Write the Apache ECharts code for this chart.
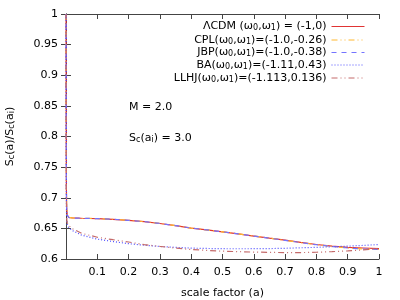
<!DOCTYPE html>
<html><head><meta charset="utf-8">
<script src="https://cdn.jsdelivr.net/npm/echarts@6/dist/echarts.min.js"></script>
<style>html,body{margin:0;padding:0;background:#fff}#c{width:400px;height:300px}</style>
</head><body><div id="c"></div>
<script>
var aVals = [0.0002, 0.0006, 0.0012, 0.002, 0.004, 0.008, 0.02, 0.05, 0.1, 0.15, 0.2, 0.25, 0.3, 0.35, 0.4, 0.45, 0.5, 0.55, 0.6, 0.65, 0.7, 0.75, 0.8, 0.85, 0.9, 0.95, 1.0];
var lcdm = [1.0, 0.84, 0.72, 0.685, 0.672, 0.668, 0.667, 0.6665, 0.666, 0.6648, 0.6632, 0.661, 0.658, 0.6545, 0.6505, 0.6475, 0.6444, 0.641, 0.6375, 0.634, 0.6307, 0.627, 0.6237, 0.621, 0.619, 0.618, 0.617];
var cpl  = [1.0, 0.84, 0.72, 0.685, 0.672, 0.668, 0.667, 0.6665, 0.666, 0.6648, 0.6632, 0.661, 0.658, 0.6545, 0.6505, 0.6475, 0.6444, 0.641, 0.6375, 0.634, 0.6305, 0.6268, 0.6233, 0.6205, 0.618, 0.6165, 0.6155];
var jbp  = [1.0, 0.84, 0.72, 0.685, 0.672, 0.668, 0.667, 0.6665, 0.666, 0.6648, 0.6632, 0.661, 0.658, 0.6545, 0.6505, 0.6475, 0.6444, 0.641, 0.6375, 0.634, 0.6305, 0.6268, 0.6233, 0.6205, 0.618, 0.6165, 0.6155];
var ba   = [1.0, 0.82, 0.7, 0.665, 0.656, 0.652, 0.6465, 0.639, 0.6325, 0.6285, 0.625, 0.6225, 0.6205, 0.619, 0.6178, 0.6172, 0.6168, 0.6167, 0.6168, 0.617, 0.6175, 0.6183, 0.619, 0.62, 0.621, 0.6222, 0.6237];
var llhj = [1.0, 0.82, 0.7, 0.667, 0.659, 0.655, 0.6495, 0.642, 0.6355, 0.6315, 0.6278, 0.6235, 0.6205, 0.6178, 0.6155, 0.614, 0.6128, 0.612, 0.6113, 0.6108, 0.6105, 0.6105, 0.611, 0.612, 0.6132, 0.615, 0.617];
var seriesNames = ['LCDM', 'CPL', 'JBP', 'BA', 'LLHJ'];
var legendLabels = [
  'ΛCDM (ω{s|0},ω{s|1}) = (-1,0)',
  'CPL(ω{s|0},ω{s|1})=(-1.0,-0.26)',
  'JBP(ω{s|0},ω{s|1})=(-1.0,-0.38)',
  'BA(ω{s|0},ω{s|1})=(-1.11,0.43)',
  'LLHJ(ω{s|0},ω{s|1})=(-1.113,0.136)'
];
var xTicks = [0.1, 0.2, 0.3, 0.4, 0.5, 0.6, 0.7, 0.8, 0.9, 1];
var yTicks = [0.6, 0.65, 0.7, 0.75, 0.8, 0.85, 0.9, 0.95, 1];

function pairs(ys){ return aVals.map(function(a,i){ return [a, ys[i]]; }); }
var allData = [lcdm, cpl, jbp, ba, llhj];
var colors = ['#e03434', '#ffb830', '#7474ff', '#4c4cff', '#c46a6a'];
var dashes = ['solid', [6,3,1,3,1,3], [5,5], [1,2], [6,3,1,3,1,3]];
var FONT = 'DejaVu Sans';
var rich = { s: { fontSize: 8, fontFamily: FONT, verticalAlign: 'bottom', lineHeight: 8, padding: [6,0,0,0] } };

var series = seriesNames.map(function(n, i){
  return { name: n, type: 'line', xAxisIndex: 0, yAxisIndex: 0, symbol: 'none', smooth: false, animation: false,
    data: pairs(allData[i]), lineStyle: { color: colors[i], width: 1.2, type: dashes[i] }, itemStyle: { color: colors[i] }, z: 2 + i };
});
var rowCenters = [25, 38.5, 51, 63.5, 76.5];
var legends = seriesNames.map(function(n, i){
  return { data: [n], right: 35, top: rowCenters[i] - 7, align: 'right', orient: 'vertical', itemWidth: 33, itemHeight: 12,
    padding: 0, selectedMode: false,
    itemStyle: { color: 'transparent', borderWidth: 0, opacity: 0 },
    lineStyle: { width: 1, color: colors[i], type: dashes[i] },
    formatter: function(){ return legendLabels[i]; },
    textStyle: { fontFamily: FONT, fontSize: 11, color: '#000', rich: rich } };
});
var option = {
  animation: false,
  grid: { left: 66, right: 21, top: 14, bottom: 41, containLabel: false, outerBoundsMode: 'none' },
  legend: legends,
  xAxis: [
    { type: 'value', min: 0, max: 1, interval: 0.1, position: 'bottom',
      name: 'scale factor (a)', nameLocation: 'middle', nameGap: 29,
      nameTextStyle: { fontFamily: FONT, fontSize: 11, color: '#000' },
      axisLine: { lineStyle: { color: '#444' } }, splitLine: { show: false },
      axisTick: { inside: true, length: 5, lineStyle: { color: '#444' } },
      axisLabel: { fontFamily: FONT, fontSize: 11, color: '#000', margin: 8,
        formatter: function(v){ return xTicks.some(function(t){return Math.abs(t-v)<1e-9;}) ? String(+v.toFixed(1)) : ''; } } },
    { type: 'value', min: 0, max: 1, interval: 0.1, position: 'top',
      axisLine: { lineStyle: { color: '#444' } }, splitLine: { show: false },
      axisTick: { inside: true, length: 5, lineStyle: { color: '#444' } }, axisLabel: { show: false } }
  ],
  yAxis: [
    { type: 'value', min: 0.6, max: 1, interval: 0.05, position: 'left',
      name: 'S{s|c}(a)/S{s|c}(a{s|i})', nameLocation: 'middle', nameGap: 50, nameRotate: 90,
      nameTextStyle: { fontFamily: FONT, fontSize: 11, color: '#000', rich: rich },
      axisLine: { show: true, lineStyle: { color: '#444' } }, splitLine: { show: false },
      axisTick: { show: true, inside: true, length: 5, lineStyle: { color: '#444' } },
      axisLabel: { fontFamily: FONT, fontSize: 11, color: '#000', margin: 8,
        formatter: function(v){ var t = yTicks.filter(function(t){return Math.abs(t-v)<1e-9;}); return t.length ? String(t[0]) : ''; } } },
    { type: 'value', min: 0.6, max: 1, interval: 0.05, position: 'right',
      axisLine: { show: true, lineStyle: { color: '#444' } }, splitLine: { show: false },
      axisTick: { show: true, inside: true, length: 5, lineStyle: { color: '#444' } }, axisLabel: { show: false } }
  ],
  graphic: [
    { type: 'text', left: 129, top: 102, style: { text: 'M = 2.0', font: '11px "DejaVu Sans"', fill: '#000' } },
    { type: 'text', left: 129, top: 130, style: { text: 'S{s|c}(a{s|i}) = 3.0', font: '11px "DejaVu Sans"', fill: '#000', rich: rich } }
  ],
  series: series
};
var chart = echarts.init(document.getElementById('c'), null, { renderer: 'canvas' });
chart.setOption(option);
</script></body></html>
